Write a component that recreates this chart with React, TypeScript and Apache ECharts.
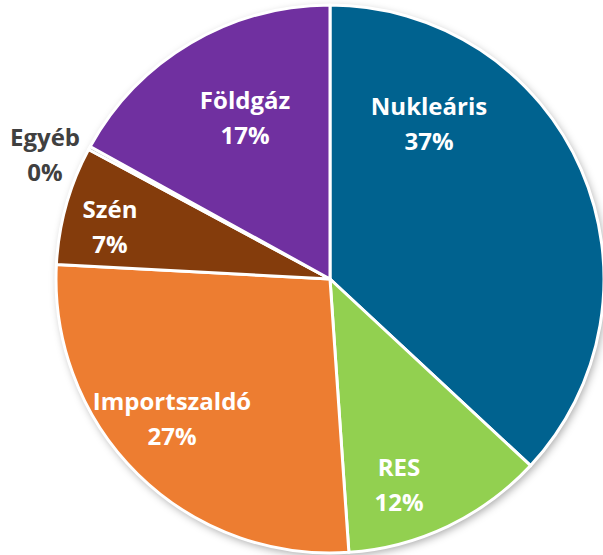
import React, { useEffect, useRef } from "react";
import * as echarts from "echarts";

const categories = ["Nukleáris", "RES", "Importszaldó", "Szén", "Egyéb", "Földgáz"];
const values = [37, 12, 27, 7, 0.2, 17];
const colors = ["#00628F", "#92D050", "#ED7D31", "#843C0C", "#A5A5A5", "#7030A0"];
const labelColors = ["#FFFFFF", "#FFFFFF", "#FFFFFF", "#FFFFFF", "#404040", "#FFFFFF"];

// label anchor positions (layout only)
const labelPos: Record<string, [number, number]> = {
  "Nukleáris": [429, 123],
  "RES": [399, 484],
  "Importszaldó": [172, 418],
  "Szén": [110, 226],
  "Egyéb": [45, 154],
  "Földgáz": [245, 117],
};

export default function App() {
  const ref = useRef<HTMLDivElement>(null);
  useEffect(() => {
    if (!ref.current) return;
    const chart = echarts.init(ref.current, null, { renderer: "svg" });
    const center = [330, 279];
    const radius = 274;
    chart.setOption({
      animation: false,
      backgroundColor: "#FFFFFF",
      series: [
        {
          type: "pie",
          silent: true,
          center,
          radius,
          z: 1,
          label: { show: false },
          labelLine: { show: false },
          itemStyle: {
            color: "#FFFFFF",
            shadowBlur: 8,
            shadowColor: "rgba(0,0,0,0.35)",
            shadowOffsetX: 2,
            shadowOffsetY: 3,
          },
          data: [{ value: 1, name: "bg" }],
        },
        {
          type: "pie",
          center,
          radius,
          z: 2,
          startAngle: 90,
          clockwise: true,
          percentPrecision: 0,
          avoidLabelOverlap: false,
          itemStyle: { borderColor: "#FFFFFF", borderWidth: 3 },
          label: {
            show: true,
            position: "inside",
            formatter: "{b}\n{d}%",
            fontFamily: "Open Sans",
            fontWeight: "bold",
            fontSize: 24,
            lineHeight: 35,
            align: "center",
          },
          labelLine: { show: false },
          labelLayout: (params: any) => {
            const name = categories[params.dataIndex];
            const p = labelPos[name];
            return { x: p[0], y: p[1] };
          },
          data: categories.map((c, i) => ({
            name: c,
            value: values[i],
            itemStyle: { color: colors[i] },
            label: { color: labelColors[i] },
          })),
        },
      ],
    });
    return () => chart.dispose();
  }, []);
  return (
    <div
      ref={ref}
      style={{ position: "fixed", left: 0, top: 0, width: 603, height: 555 }}
    />
  );
}
